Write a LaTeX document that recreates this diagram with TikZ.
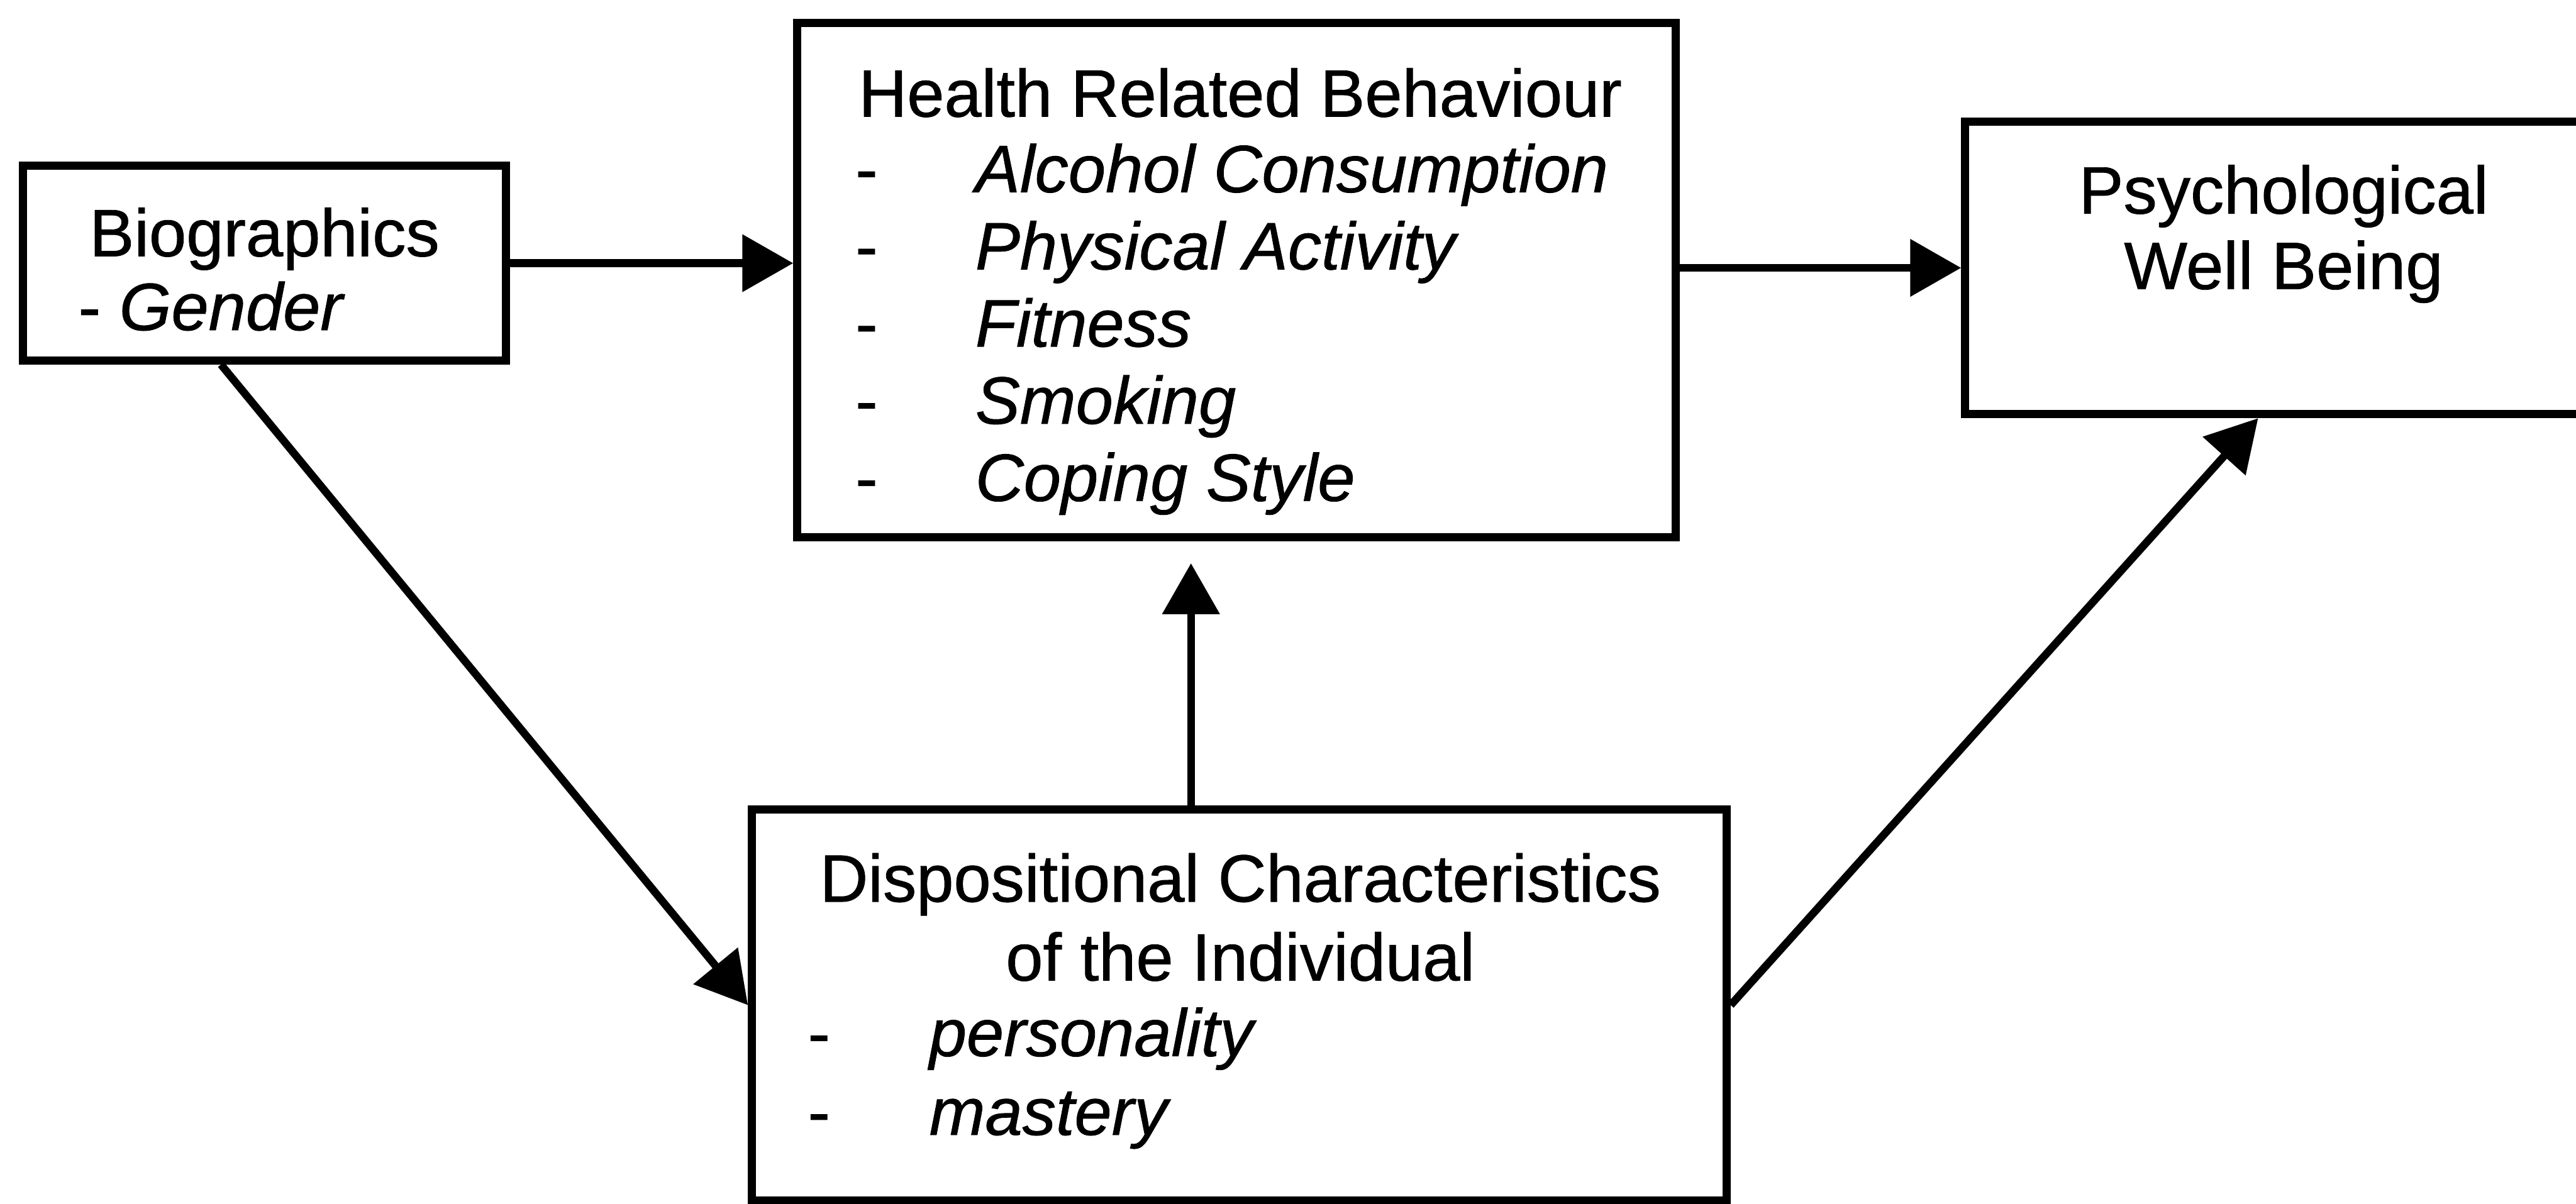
\documentclass[tikz,border=0pt]{standalone}
\usepackage{fontspec}
% slightly heavier strokes for the regular and italic faces
\setmainfont{Liberation Sans}[UprightFeatures={FakeBold=0.8},ItalicFeatures={FakeBold=0.8}]
\usetikzlibrary{arrows.meta,fit}
\begin{document}
\begin{tikzpicture}[x=0.1mm,y=-0.1mm,
  box/.style={draw, rectangle, line width=1.4pt, inner sep=0pt},
  txt/.style={inner sep=0pt, font=\fontsize{11.6pt}{13.5pt}\selectfont},
  itxt/.style={inner sep=0pt, font=\fontsize{11.6pt}{13.5pt}\selectfont\itshape},
  arr/.style={line width=1.35pt, -{Triangle[length=3.1mm,width=3.4mm]}}]
\useasboundingbox (0,0) rectangle (1568,733);
\clip (0,0) rectangle (1568,733);

% boxes
\node[box, fit={(14,101) (308,219.5)}] (bio) {};
\node[box, fit={(485.3,14) (1020,327)}] (health) {};
\node[box, fit={(1196.2,74) (1580,252.2)}] (psych) {};
\node[box, fit={(457.7,493) (1051,731)}] (disp) {};

% Biographics
\node[txt, anchor=base] (bioT) at (161,156) {Biographics};
\node[txt, anchor=base west] (bioG) at (47,201) {- \textit{Gender}};

% Health related behaviour
\node[txt, anchor=base] (hT) at (755,71) {Health Related Behaviour};
\foreach \t [count=\i] in {Alcohol Consumption, Physical Activity, Fitness, Smoking, Coping Style} {
  \node[txt, anchor=base west] (hd\i) at (520,{70+47*\i}) {-};
  \node[itxt, anchor=base west] (hi\i) at (593,{70+47*\i}) {\t};
}

% Psychological well being
\node[txt, anchor=base] (pT1) at (1390,130) {Psychological};
\node[txt, anchor=base] (pT2) at (1390,176) {Well Being};

% Dispositional characteristics
\node[txt, anchor=base] (dT1) at (755,549) {Dispositional Characteristics};
\node[txt, anchor=base] (dT2) at (755,597) {of the Individual};
\node[txt, anchor=base west] (dd1) at (491,643) {-};
\node[itxt, anchor=base west] (di1) at (565,643) {personality};
\node[txt, anchor=base west] (dd2) at (491,691) {-};
\node[itxt, anchor=base west] (di2) at (565,691) {mastery};

% connectors
\coordinate (dup) at ([xshift=-2.94mm]disp.north);
\coordinate (bs) at ([xshift=-2.65mm]bio.south);
\coordinate (ps) at ([xshift=-1.36mm]psych.south);
\draw[arr] (bio.east) -- (bio.east -| health.west);
\draw[arr] (health.east |- psych.west) -- (psych.west);
\draw[arr, shorten >=1.35mm] (dup) -- (dup |- health.south);
\draw[arr] (bs) -- (disp.west);
\draw[arr] (disp.east) -- (ps);
\end{tikzpicture}
\end{document}
